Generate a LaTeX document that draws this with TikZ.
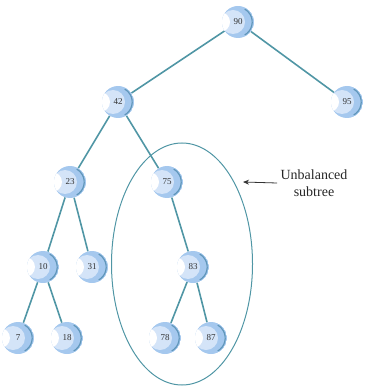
\documentclass[tikz,border=0pt]{standalone}
\usepackage{fontspec}
\setmainfont{Liberation Serif}
\usetikzlibrary{shapes.geometric,backgrounds,arrows.meta}
\definecolor{edgec}{RGB}{80,150,165}
\definecolor{ballc}{RGB}{165,200,238}
\definecolor{ballp}{RGB}{212,228,248}
\definecolor{balld}{RGB}{95,150,185}
\tikzset{
  ball/.style={circle, minimum size=32pt, inner sep=0pt, font=\fontsize{9}{9}\selectfont, text=black!80,
    path picture={
      \fill[ballc] (path picture bounding box.center) circle (16pt);
      \fill[ballp] ([xshift=-5pt]path picture bounding box.center) circle (12pt);
      \fill[white] ([xshift=-18pt]path picture bounding box.center) circle (10pt);
      \draw[balld, line width=1.2pt] ([xshift=-0.8pt]path picture bounding box.center) ++(-60:15pt) arc (-60:60:15pt);
    }},
  link/.style={edgec, line width=1.6pt},
}
\begin{document}
\begin{tikzpicture}[x=1pt,y=-1pt]
\useasboundingbox (0,0) rectangle (364,387);
\node[ball] (n90) at (238,22) {90};
\node[ball] (n95) at (347,102) {95};
\node[ball] (n42) at (118,102) {42};
\node[ball] (n23) at (70,182) {23};
\node[ball] (n75) at (167,182) {75};
\node[ball] (n10) at (43,267) {10};
\node[ball] (n31) at (92,267) {31};
\node[ball] (n83) at (193,267) {83};
\node[ball] (n7) at (18,338) {7};
\node[ball] (n18) at (67,338) {18};
\node[ball] (n78) at (165,338) {78};
\node[ball] (n87) at (211,338) {87};
\node[draw=edgec, line width=1pt, ellipse, minimum width=141pt, minimum height=242pt, inner sep=0pt] (sub) at (182,264) {};
\node[align=center, font=\fontsize{14}{17}\selectfont, text=black!85] (lbl) at (314,183) {Unbalanced\\subtree};
\coordinate (tip) at (243,182);
\draw[black!80, line width=0.8pt, -{Stealth[length=6pt,width=5pt]}] (lbl.west) -- (tip);
\begin{scope}[on background layer]
\draw[link] (n90) -- (n95);
\draw[link] (n90) -- (n42);
\draw[link] (n42) -- (n23);
\draw[link] (n42) -- (n75);
\draw[link] (n23) -- (n10);
\draw[link] (n23) -- (n31);
\draw[link] (n75) -- (n83);
\draw[link] (n10) -- (n7);
\draw[link] (n10) -- (n18);
\draw[link] (n83) -- (n78);
\draw[link] (n83) -- (n87);
\end{scope}
\end{tikzpicture}
\end{document}
